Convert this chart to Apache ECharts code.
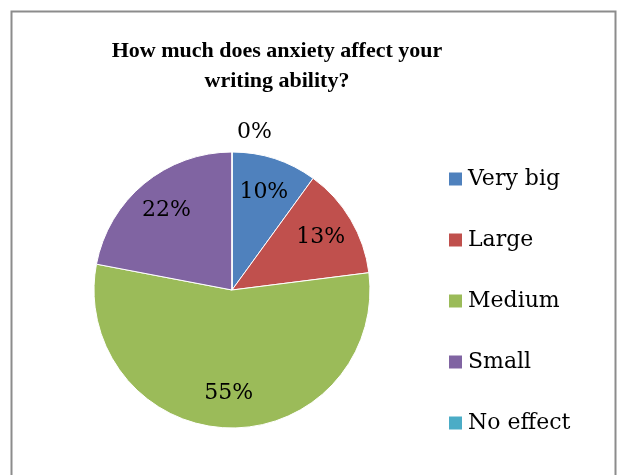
<!DOCTYPE html>
<html>
<head>
<meta charset="utf-8">
<script src="https://cdn.jsdelivr.net/npm/echarts@6/dist/echarts.min.js"></script>
<style>
  html, body { margin: 0; padding: 0; background: #fff; }
  #chart { width: 618px; height: 475px; }
</style>
</head>
<body>
<div id="chart"></div>
<script>
  const categories = ["Very big", "Large", "Medium", "Small", "No effect"];
  const values = [10, 13, 55, 22, 0];
  const colors = ["#4F81BD", "#C0504D", "#9BBB59", "#8064A2", "#4BACC6"];

  const pieData = categories.map((name, i) => ({
    name: name,
    value: values[i],
    itemStyle: { color: colors[i] },
  }));

  // second, transparent ring only carries the % labels (Excel puts them ~3/4 out)
  const labelData = categories.map((name, i) => {
    const item = { name: name, value: values[i] };
    if (values[i] === 0) {
      item.label = { position: "outside" };
      item.labelLine = { show: false, length: 20, length2: 0 };
    }
    return item;
  });

  const labelFont = "'DejaVu Serif', serif";

  const chart = echarts.init(document.getElementById("chart"));
  chart.setOption({
    animation: false,
    title: {
      text: "How much does anxiety affect your\nwriting ability?",
      left: 272,
      top: 31,
      textAlign: "center",
      textStyle: {
        fontFamily: "'Liberation Serif', serif",
        fontWeight: "bold",
        fontSize: 22,
        lineHeight: 30,
        color: "#000",
      },
    },
    legend: {
      orient: "vertical",
      left: 442,
      top: 163,
      itemWidth: 15,
      itemHeight: 15,
      itemGap: 39,
      icon: "rect",
      data: categories,
      textStyle: {
        fontFamily: labelFont,
        fontSize: 22,
        color: "#000",
      },
      selectedMode: false,
    },
    graphic: [
      {
        type: "rect",
        shape: { x: 11.5, y: 11.5, width: 604, height: 480 },
        style: { fill: "none", stroke: "#8c8c8c", lineWidth: 2 },
        silent: true,
      },
    ],
    series: [
      {
        type: "pie",
        center: [232, 290],
        radius: 138,
        startAngle: 90,
        clockwise: true,
        silent: true,
        data: pieData,
        itemStyle: { borderColor: "#fff", borderWidth: 1 },
        label: { show: false },
        labelLine: { show: false },
      },
      {
        type: "pie",
        center: [232, 290],
        radius: [62, 138],
        startAngle: 90,
        clockwise: true,
        silent: true,
        stillShowZeroSum: true,
        data: labelData,
        itemStyle: { color: "transparent" },
        label: {
          show: true,
          position: "inside",
          formatter: "{d}%",
          fontFamily: labelFont,
          fontSize: 22,
          color: "#000",
        },
        labelLine: { show: false },
      },
    ],
  });
</script>
</body>
</html>
